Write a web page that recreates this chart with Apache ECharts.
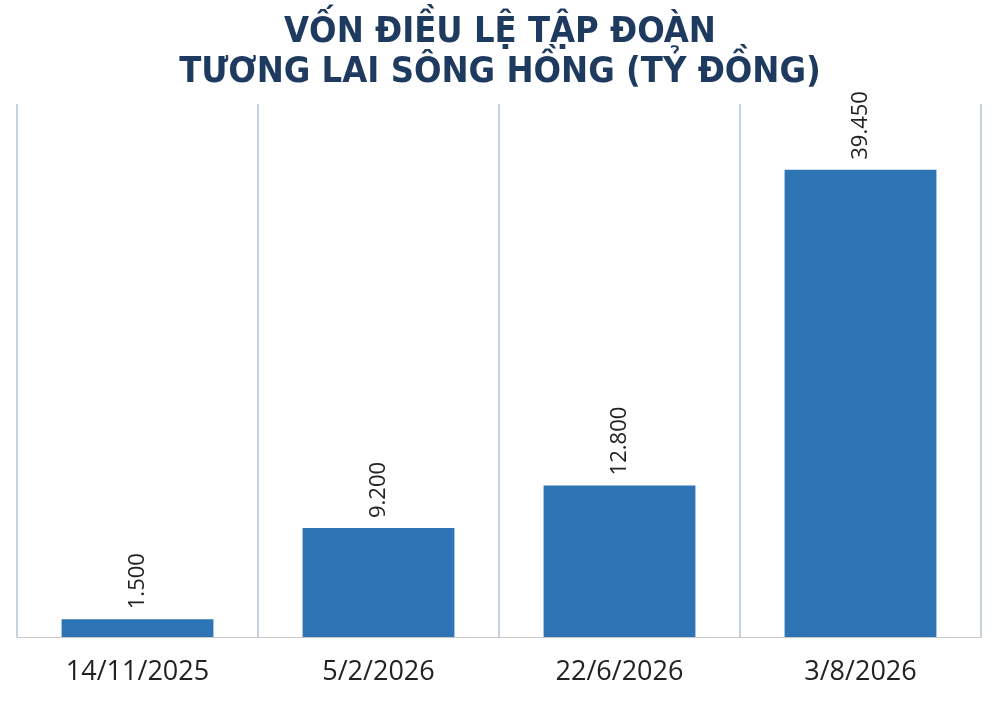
<!DOCTYPE html>
<html><head><meta charset="utf-8">
<script src="https://cdn.jsdelivr.net/npm/echarts@6/dist/echarts.min.js"></script>
<style>html,body{margin:0;padding:0;background:#fff}#c{width:1000px;height:701px}</style>
</head><body><div id="c"></div>
<script>
const categories = ['14/11/2025', '5/2/2026', '22/6/2026', '3/8/2026'];
const values = [1500, 9200, 12800, 39450];
const titleLines = ['VỐN ĐIỀU LỆ TẬP ĐOÀN', 'TƯƠNG LAI SÔNG HỒNG (TỶ ĐỒNG)'];

function fmt(v){ return String(v).replace(/\B(?=(\d{3})+(?!\d))/g, '.'); }

const chart = echarts.init(document.getElementById('c'));
chart.setOption({
  animation: false,
  backgroundColor: '#fff',
  title: {
    text: titleLines.join('\n'),
    left: 'center', top: 8,
    textStyle: {
      fontFamily: '"Liberation Sans Narrow","DejaVu Sans Condensed","Liberation Sans",sans-serif',
      fontWeight: 'bold', fontSize: 36, lineHeight: 40, color: '#1F3A5F'
    }
  },
  grid: { left: 17, right: 19, top: 104, bottom: 64, containLabel: false },
  xAxis: {
    type: 'category', data: categories, boundaryGap: true,
    axisLine: { show: true, lineStyle: { color: '#C8C8C8', width: 1 } },
    axisTick: { show: false },
    axisLabel: { fontFamily: '"Open Sans","Noto Sans",sans-serif', fontSize: 27, color: '#222', margin: 22 },
    splitLine: { show: true, lineStyle: { color: '#B0C2D6', width: 1.5 } }
  },
  yAxis: {
    type: 'value', min: 0, max: 45000,
    show: false, splitLine: { show: false }
  },
  series: [{
    type: 'bar', data: values, barWidth: '63%',
    itemStyle: { color: '#2E74B5' },
    label: {
      show: true, position: 'top', rotate: 90, align: 'left', verticalAlign: 'middle',
      distance: 10,
      fontFamily: '"Open Sans","Noto Sans",sans-serif', fontSize: 22, color: '#222',
      formatter: p => fmt(p.value)
    }
  }]
});
</script></body></html>
